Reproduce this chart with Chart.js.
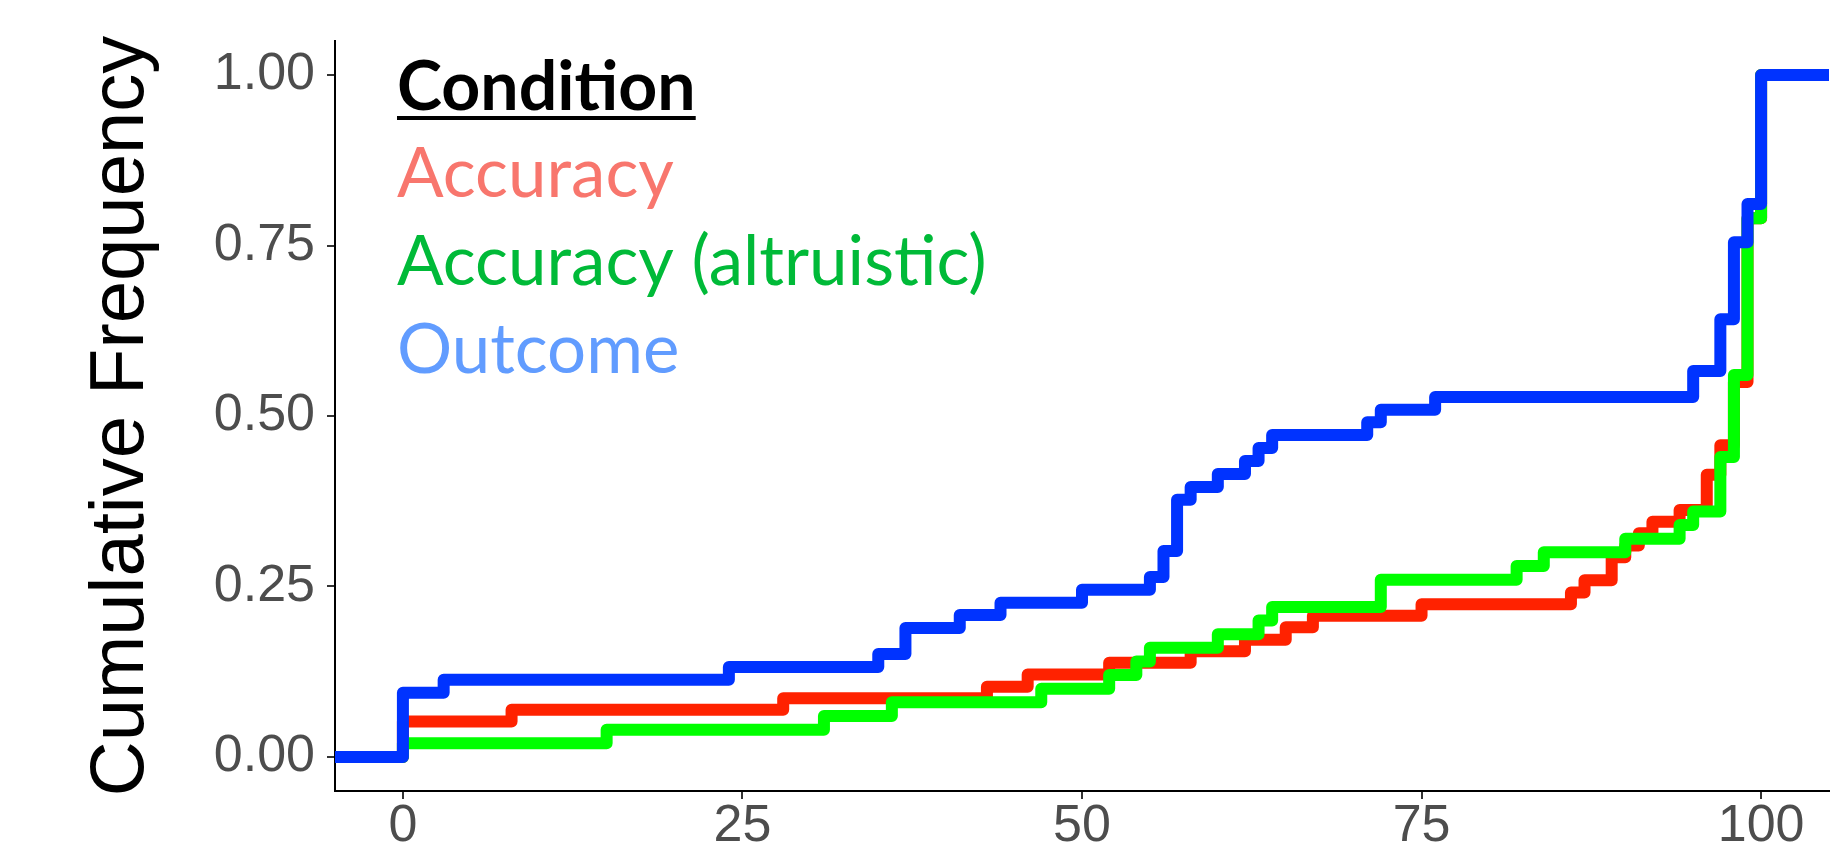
<!DOCTYPE html>
<html><head><meta charset="utf-8">
<script src="https://cdn.jsdelivr.net/npm/chart.js@4.4.1/dist/chart.umd.min.js"></script>
<style>html,body{margin:0;padding:0;background:#fff;overflow:hidden}canvas{display:block}</style>
</head><body>
<canvas id="c" width="1842" height="864"></canvas>
<script>
const seriesNames = ['Accuracy', 'Accuracy (altruistic)', 'Outcome'];
const legendTitle = 'Condition';
const yTitle = 'Cumulative Frequency';
const xTicks = [0, 25, 50, 75, 100];
const yTicks = [0, 0.25, 0.5, 0.75, 1];

const accuracyX = [-5, 0, 8, 28, 43, 46, 52, 58, 62, 65, 67, 75, 86, 87, 89, 90, 91, 92, 94, 96, 97, 98, 99, 100, 105];
const accuracyY = [0, 0.052, 0.069, 0.086, 0.103, 0.121, 0.138, 0.155, 0.172, 0.190, 0.207, 0.224, 0.241, 0.259, 0.293, 0.310, 0.328, 0.345, 0.362, 0.414, 0.457, 0.550, 0.790, 1.0, 1.0];

const altruisticX = [-5, 0, 15, 31, 36, 47, 52, 54, 55, 60, 63, 64, 72, 82, 84, 90, 94, 95, 97, 98, 99, 100, 105];
const altruisticY = [0, 0.02, 0.04, 0.06, 0.08, 0.10, 0.12, 0.14, 0.16, 0.18, 0.20, 0.22, 0.26, 0.28, 0.30, 0.32, 0.34, 0.36, 0.44, 0.56, 0.79, 1.0, 1.0];

const outcomeX = [-5, 0, 3, 24, 35, 37, 41, 44, 50, 55, 56, 57, 58, 60, 62, 63, 64, 71, 72, 76, 95, 97, 98, 99, 100, 105];
const outcomeY = [0, 0.094, 0.113, 0.132, 0.151, 0.189, 0.208, 0.226, 0.245, 0.264, 0.302, 0.377, 0.396, 0.415, 0.434, 0.453, 0.472, 0.491, 0.509, 0.528, 0.566, 0.642, 0.755, 0.811, 1.0, 1.0];

// ---- styles ----
const lineColors = ['#FF2200', '#00FF00', '#0033FF'];
const textColors = ['#F8766D', '#00BA38', '#619CFF'];

function pts(xs, ys) { return xs.map((x, i) => ({ x: x, y: ys[i] })); }

const legendPlugin = {
  id: 'conditionLegend',
  afterDraw(chart) {
    const ctx = chart.ctx;
    ctx.save();
    const x0 = 397;
    ctx.textAlign = 'left';
    ctx.textBaseline = 'alphabetic';
    ctx.fillStyle = '#000000';
    ctx.font = 'bold 68px Lato';
    ctx.fillText(legendTitle, x0, 110);
    const w = ctx.measureText(legendTitle).width;
    ctx.fillRect(x0, 116, w, 4);
    ctx.font = '69px Lato';
    chart.data.datasets.forEach((ds, i) => {
      ctx.fillStyle = textColors[i];
      ctx.fillText(ds.label, x0, 197 + i * 88);
    });
    ctx.restore();
  }
};

const tickFont = { family: 'Liberation Sans, Arial, sans-serif', size: 52, lineHeight: 1 };

new Chart(document.getElementById('c'), {
  type: 'line',
  data: {
    datasets: [
      { label: seriesNames[0], data: pts(accuracyX, accuracyY), borderColor: lineColors[0], order: 3 },
      { label: seriesNames[1], data: pts(altruisticX, altruisticY), borderColor: lineColors[1], order: 2 },
      { label: seriesNames[2], data: pts(outcomeX, outcomeY), borderColor: lineColors[2], order: 1 }
    ].map(d => Object.assign(d, { stepped: 'before', borderWidth: 12, borderJoinStyle: 'round', borderCapStyle: 'butt', fill: false, pointRadius: 0, pointHoverRadius: 0, clip: 0 }))
  },
  options: {
    responsive: false,
    animation: false,
    devicePixelRatio: 1,
    layout: { padding: { top: 41, right: 13, left: 0, bottom: 0 } },
    plugins: { legend: { display: false }, tooltip: { enabled: false } },
    scales: {
      x: {
        type: 'linear', min: -5, max: 105,
        afterBuildTicks: s => { s.ticks = xTicks.map(v => ({ value: v })); },
        afterFit: s => { s.height = 73; },
        grid: { drawOnChartArea: false, drawTicks: true, tickLength: 8, color: '#333333', lineWidth: 2 },
        border: { display: true, color: '#000000', width: 2 },
        ticks: { font: tickFont, color: '#4D4D4D', padding: 2, maxRotation: 0, autoSkip: false }
      },
      y: {
        type: 'linear', min: -0.05, max: 1.05,
        afterBuildTicks: s => { s.ticks = yTicks.map(v => ({ value: v })); },
        afterFit: s => { s.width = 335; },
        grid: { drawOnChartArea: false, drawTicks: true, tickLength: 8, color: '#333333', lineWidth: 2 },
        border: { display: true, color: '#000000', width: 2 },
        ticks: { font: tickFont, color: '#4D4D4D', padding: 12, autoSkip: false, callback: v => Number(v).toFixed(2) },
        title: { display: true, text: yTitle, color: '#000000', font: { family: 'Liberation Sans, Arial, sans-serif', size: 76, lineHeight: 1.2 }, padding: { top: 76, bottom: 0 } }
      }
    }
  },
  plugins: [legendPlugin]
});
</script>
</body></html>
